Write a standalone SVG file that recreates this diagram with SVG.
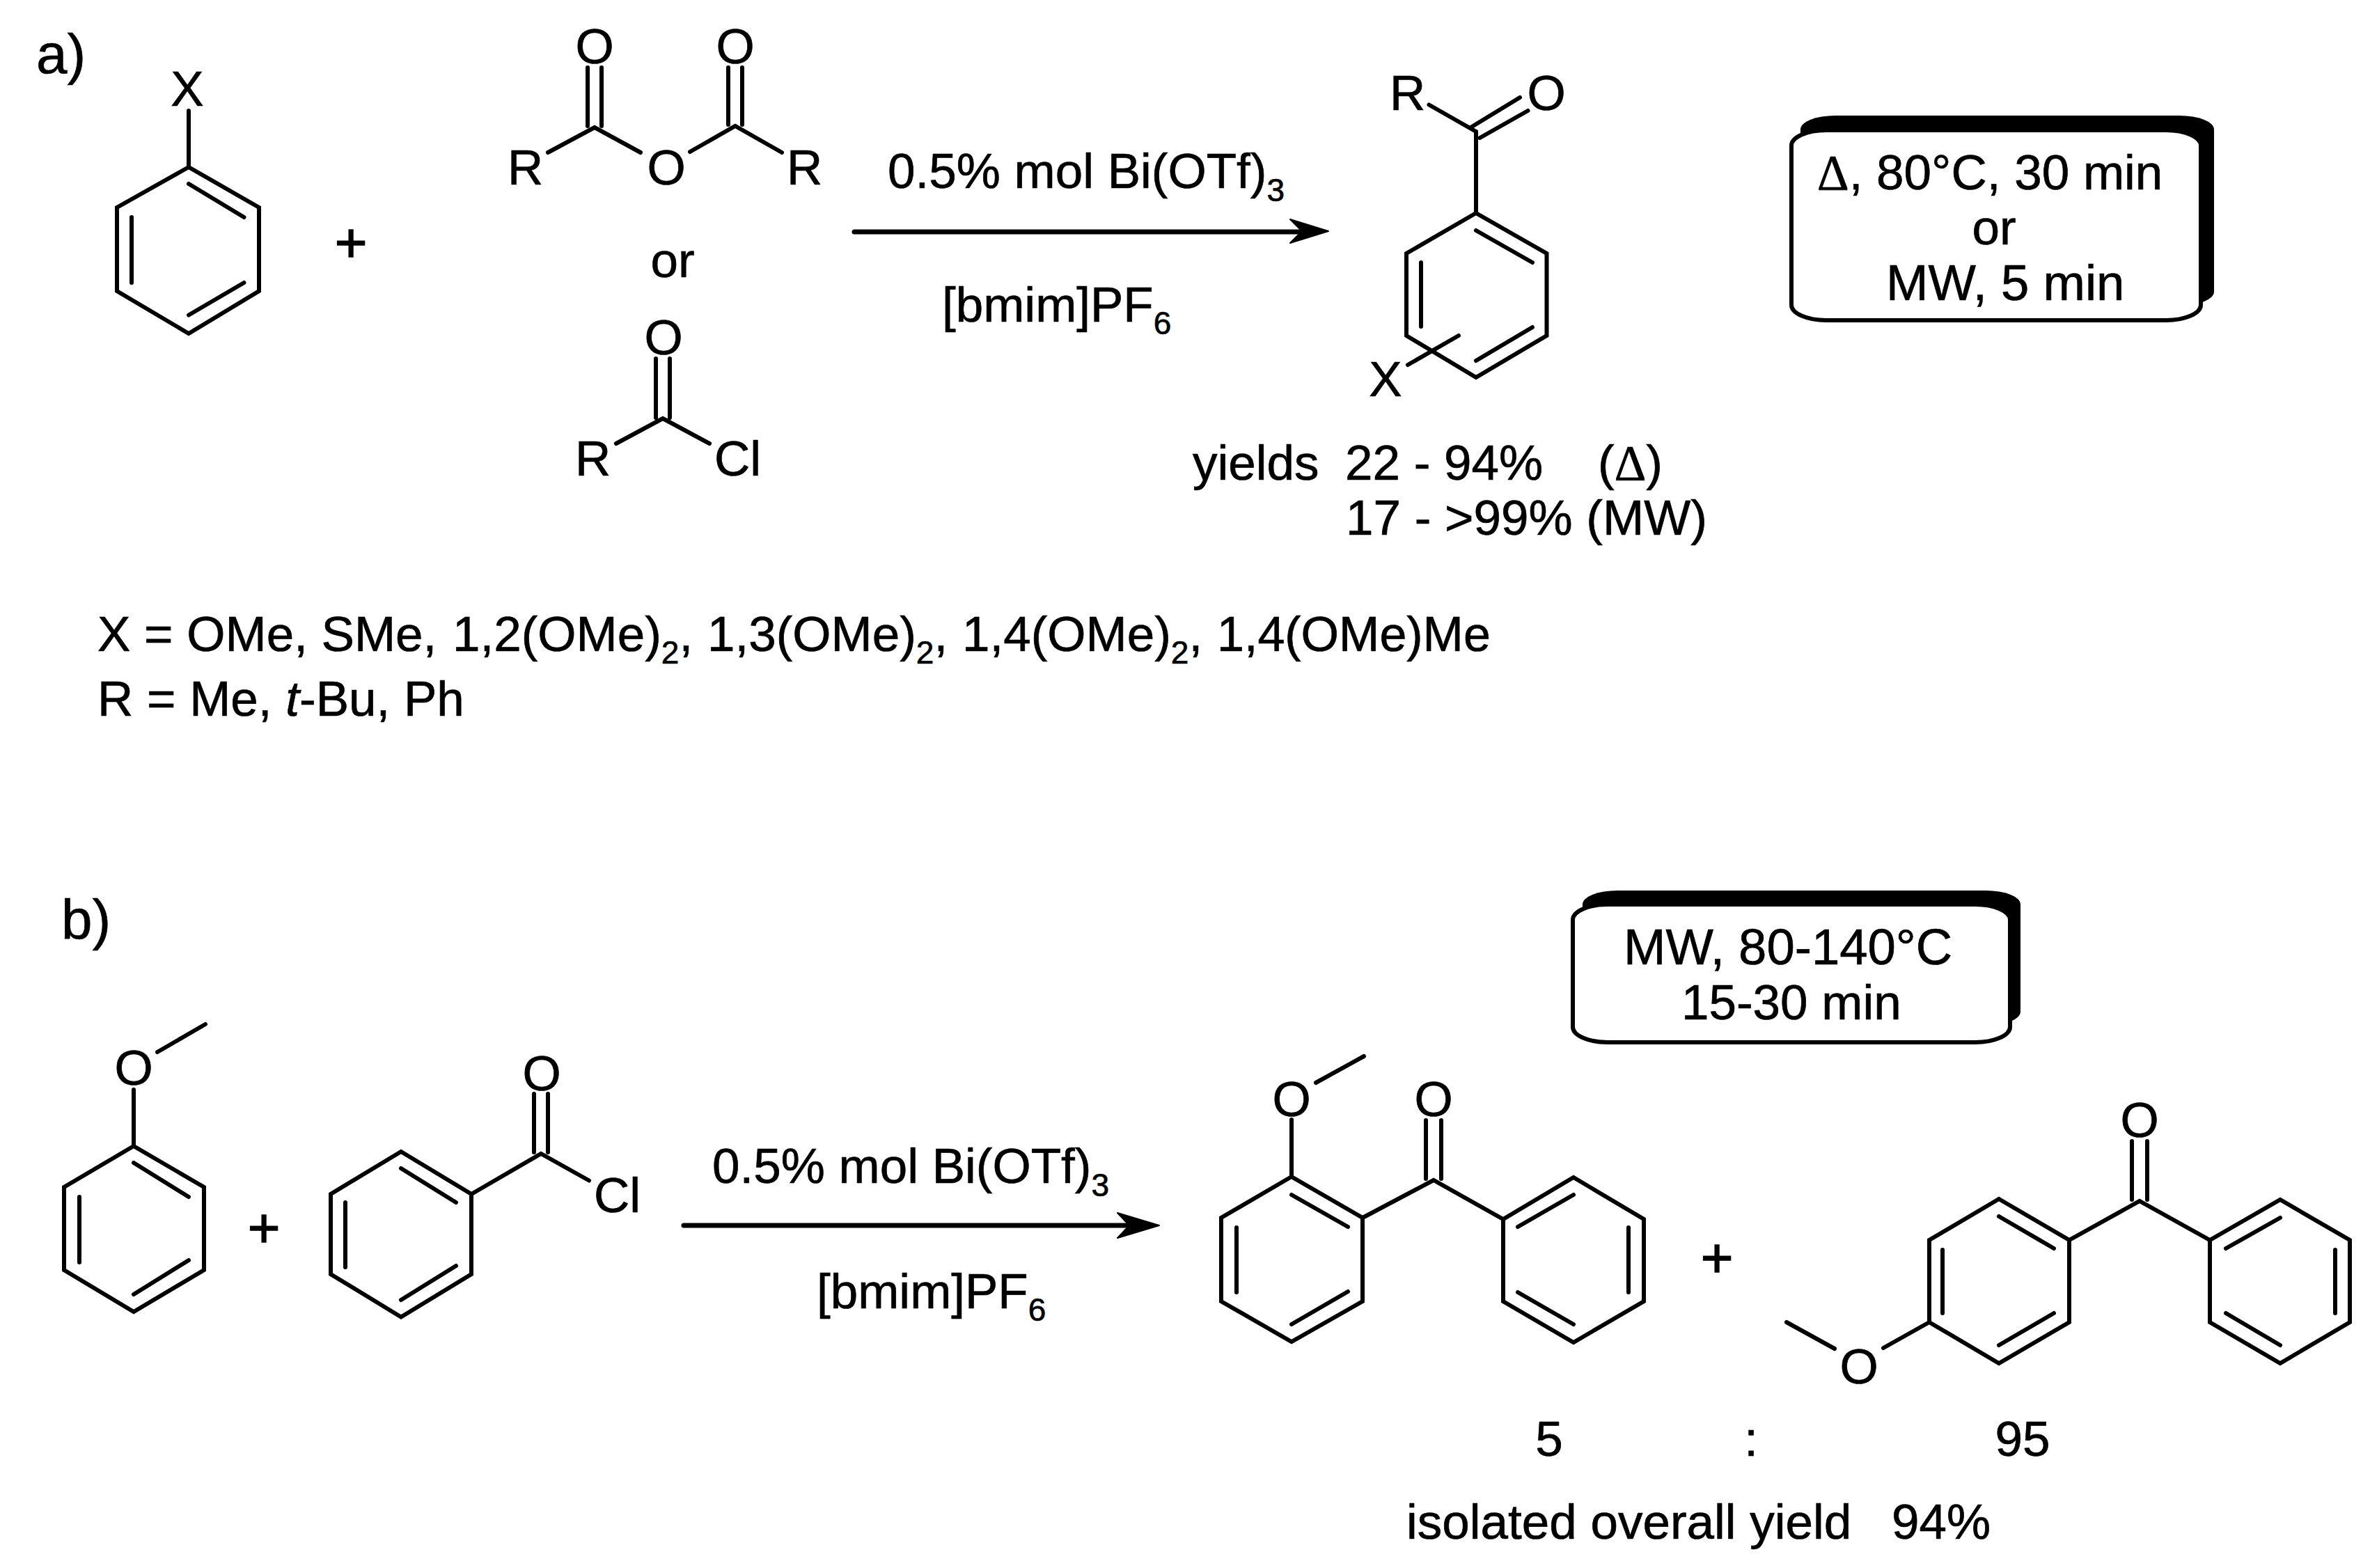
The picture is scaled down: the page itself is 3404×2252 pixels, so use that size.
<svg xmlns="http://www.w3.org/2000/svg" width="3404" height="2252" viewBox="0 0 3404 2252">
<style>
text{font-family:"Liberation Sans",Arial,sans-serif;font-size:71px;fill:#000;stroke:#000;stroke-width:.7}
.m{text-anchor:middle}
.lab{font-size:80px}
.sub{font-size:46px}
.wide{font-size:72.500px}
.plus{font-size:80px;stroke-width:1.500}
.serif{font-family:"Liberation Serif",serif}
.bond{fill:none;stroke:#000;stroke-width:6;stroke-linecap:round;stroke-linejoin:miter}
.arrow{fill:none;stroke:#000;stroke-width:7;stroke-linecap:round}
.head{fill:#000;stroke:#000;stroke-width:2;stroke-linejoin:round}
.front{fill:#fff;stroke:#000;stroke-width:6}
</style>
<rect width="3404" height="2252" fill="#fff"/>
<g id="label-a"><text class="lab" x="52" y="105">a)</text></g>
<g id="label-b"><text class="lab" x="88" y="1348">b)</text></g>

<g id="arene-a">
<path class="bond" d="M271 159V240L372 298V418L271 479L168 418V298L271 240M271 264L350.500 312M189 312V406M350.500 406L271 452.500"/>
<text class="m" x="269" y="152">X</text>
</g>
<g id="plus-a"><text class="m plus" x="504" y="376">+</text></g>
<g id="anhydride">
<path class="bond" d="M787 219L854 183L920 219M991 218L1056 181L1123 219M844 97V181M864 97V181M1046 97V179M1066 97V179"/>
<text class="m" x="854" y="91">O</text><text class="m" x="1056" y="91">O</text>
<text class="m" x="957" y="265">O</text>
<text x="729" y="265">R</text><text x="1130" y="265">R</text>
</g>
<g id="or-a"><text class="m" x="966" y="398">or</text></g>
<g id="acid-chloride">
<path class="bond" d="M885 637L952 601L1019 637M942 515V600M962 515V600"/>
<text class="m" x="953" y="509">O</text>
<text x="826" y="683">R</text><text x="1026" y="683">Cl</text>
</g>
<g id="conditions-a">
<text x="1275" y="270">0.5% mol Bi(OTf)<tspan class="sub" dy="19">3</tspan></text>
<text x="1353" y="462">[bmim]PF<tspan class="sub" dy="18">6</tspan></text>
</g>
<g id="product-a">
<path class="bond" d="M2052.500 150.500L2120 189V306L2221.500 364V482L2120 542L2020 482V364L2120 306M2114 182L2183 140M2125.500 198L2194.500 159M2120 331L2201 377M2041 377V469M2201 470L2120 518M2022 524L2095 482"/>
<text x="1996" y="158">R</text>
<text class="m" x="2221" y="158">O</text>
<text class="m" x="1990" y="569">X</text>
</g>
<g id="yields-a">
<text x="1713" y="689">yields</text><text x="1932" y="689">22 - 94%</text>
<text x="2295" y="689">(<tspan class="serif">Δ</tspan>)</text>
<text x="1933" y="768">17 - &gt;99% (MW)</text>
</g>
<g id="box-a">
<rect x="2586" y="166" width="594" height="273" rx="50" ry="20" fill="#000"/>
<rect class="front" x="2573" y="187" width="588" height="273" rx="50" ry="22"/>
<text x="2610" y="272"><tspan class="serif">Δ</tspan>, 80°C, 30 min</text>
<text class="m" x="2864" y="351">or</text>
<text class="wide" x="2709" y="431">MW, 5 min</text>
</g>
<g id="substituents">
<text x="140" y="935">X = OMe, SMe, <tspan x="650">1,2(OMe)</tspan><tspan class="sub" dy="18">2</tspan><tspan dy="-18">,</tspan><tspan x="1016">1,3(OMe)</tspan><tspan class="sub" dy="18">2</tspan><tspan dy="-18">,</tspan><tspan x="1382">1,4(OMe)</tspan><tspan class="sub" dy="18">2</tspan><tspan dy="-18">,</tspan><tspan x="1748" style="font-size:70px">1,4(OMe)Me</tspan></text>
<text x="140" y="1028">R = Me, <tspan font-style="italic">t</tspan>-Bu, Ph</text>
</g>

<g id="anisole">
<path class="bond" d="M192 1565V1646L293 1705V1824L192 1884L92 1824V1705L192 1646M226 1511L295 1471M192 1670L271 1719M114 1719V1813M271 1810L192 1859"/>
<text class="m" x="192" y="1558">O</text>
</g>
<g id="plus-b1"><text class="m plus" x="379" y="1791">+</text></g>
<g id="benzoyl-chloride">
<path class="bond" d="M576 1654L677 1715V1830L576 1891.500L475 1830V1715L576 1654M576 1678L655 1727M496 1727V1820M655 1818L576 1867M677 1715L777 1657L846 1695.500M767 1571V1655M787 1571V1655"/>
<text class="m" x="778" y="1566">O</text>
<text x="853" y="1741">Cl</text>
</g>
<g id="conditions-b">
<text x="1023" y="1699">0.5% mol Bi(OTf)<tspan class="sub" dy="19">3</tspan></text>
<text x="1173" y="1879">[bmim]PF<tspan class="sub" dy="18">6</tspan></text>
</g>
<g id="box-b">
<rect x="2273" y="1279" width="629" height="194" rx="50" ry="20" fill="#000"/>
<rect class="front" x="2259" y="1299" width="628" height="198" rx="50" ry="22"/>
<text class="wide" x="2332" y="1385">MW, 80-140°C</text>
<text x="2415" y="1464">15-30 min</text>
</g>
<g id="product-ortho">
<path class="bond" d="M1890 1555L1959 1517M1855 1608V1690L1957 1749V1869L1855 1927L1754 1869V1749L1855 1690M1855 1716L1936 1762M1776 1763V1856M1936 1855L1855 1902M1957 1749L2059 1695L2159 1751L2260 1691L2361 1751V1869L2260 1928L2159 1869V1751M2048 1609V1693M2070 1609V1693M2260 1716L2180 1762M2339 1763V1856M2180 1856L2260 1902"/>
<text class="m" x="1855" y="1603">O</text>
<text class="m" x="2059" y="1603">O</text>
</g>
<g id="plus-b2"><text class="m plus" x="2466" y="1834">+</text></g>
<g id="product-para">
<path class="bond" d="M2871 1722L2972 1781V1899L2871 1958L2771 1899V1781L2871 1722M2871 1747L2950 1793M2790 1795V1886M2950 1886L2871 1932M2972 1781L3073 1725L3174 1781L3275 1723L3375 1781V1899L3275 1958L3174 1899V1781M3062 1639V1723M3084 1639V1723M3275 1749L3197 1793M3354 1795V1886M3197 1886L3275 1932M2771 1899L2705 1936M2635 1937L2566 1899"/>
<text class="m" x="3073" y="1633">O</text>
<text class="m" x="2670" y="1987">O</text>
</g>
<g id="ratio">
<text class="m" x="2225" y="2091">5</text>
<text class="m" x="2515" y="2091">:</text>
<text class="m" x="2905" y="2091">95</text>
<text x="2020" y="2210">isolated overall yield</text><text x="2717" y="2210">94%</text>
</g>
<g id="connectors">
<path class="arrow" d="M1227 333H1875"/>
<path class="head" d="M1908 332L1853 315L1870 332L1853 349Z"/>
<path class="arrow" d="M982 1760H1630"/>
<path class="head" d="M1665 1760L1605 1742L1622 1760L1605 1778Z"/>
</g>
</svg>
